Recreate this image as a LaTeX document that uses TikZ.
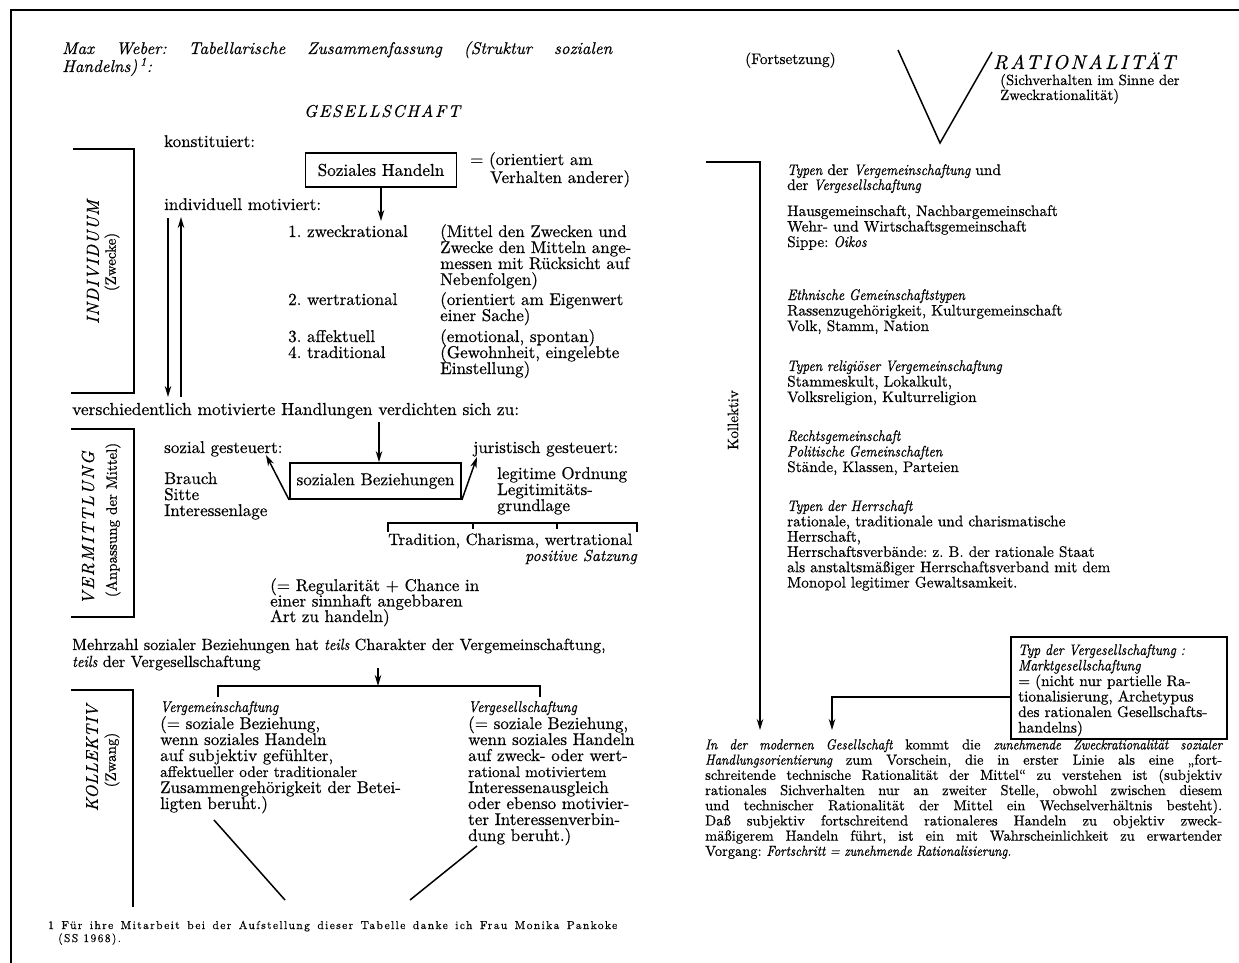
\documentclass[tikz,border=0pt]{standalone}
\usepackage{fontspec}
\usetikzlibrary{arrows.meta}
% text face: the 10pt design of Latin Modern at every size, slightly darkened
\setmainfont{lmroman10-regular.otf}[FakeBold=0.5, ItalicFont=lmroman10-italic.otf, ItalicFeatures={FakeBold=0.5}, BoldFont=lmroman10-bold.otf]
% narrow italic for the small italic headings
\newfontfamily\condit{lmroman10-italic.otf}[FakeStretch=0.88, FakeBold=0.6]
\newcommand\ci[1]{{\condit #1}}
\frenchspacing

\tikzset{
  every node/.style={inner sep=0pt},
  lt/.style={anchor=base west, font=\fontsize{17}{16}\selectfont},
  ltsmall/.style={anchor=base west, font=\fontsize{15.3}{16}\selectfont},
  rt/.style={anchor=base west, font=\fontsize{15.3}{15}\selectfont},
  boxed/.style={draw, line width=1.8pt, font=\fontsize{17.2}{16}\selectfont},
  conn/.style={line width=1.5pt},
  arr/.style={conn, -{Stealth[length=11pt,width=6.5pt]}},
  side/.style={rotate=90, font=\fontsize{17.5}{17}\selectfont\itshape\addfontfeatures{LetterSpace=6}},
  sidesub/.style={rotate=90, font=\fontsize{15}{15}\selectfont},
}

\begin{document}
\begin{tikzpicture}[x=1pt,y=-1pt]
\useasboundingbox (0,0) rectangle (1239,963);
\fill[white] (0,0) rectangle (1239,963);
\draw[line width=2.4pt] (1239,10) -- (11,10) -- (11,963);

% ---------- heading ----------
\node[lt, font=\fontsize{17}{16}\selectfont\itshape] (title1) at (62,54)
  {\makebox[550pt][s]{Max Weber: Tabellarische Zusammenfassung (Struktur sozialen}};
\node[lt, font=\fontsize{17}{16}\selectfont\itshape] (title2) at (62,72)
  {Handelns)\,\textsuperscript{1}:};
\node[font=\fontsize{17}{17}\selectfont\itshape\addfontfeatures{LetterSpace=10}] (ges) at (382,111) {GESELLSCHAFT};

% ---------- Individuum ----------
\draw[conn] (73,149) -- (134,149) -- (134,393) -- (71,393);
\node[side] (ind) at (93,262) {INDIVIDUUM};
\node[sidesub] (indz) at (112,262) {(Zwecke)};
\node[lt] (konst) at (164,147) {konstituiert:};
\node[boxed, minimum width=151pt, minimum height=34pt] (sh) at (381,170) {Soziales Handeln};
\node[lt] (or1) at (470,165) {= (orientiert am};
\node[lt] (or2) at (490,183) {Verhalten anderer)};
\node[lt] (indiv) at (164,210) {individuell motiviert:};
\coordinate (shend) at (381,221);
\draw[arr] (sh.south) -- (shend);
\coordinate (dnA) at (168,218); \coordinate (dnB) at (168,397);
\draw[arr] (dnA) -- (dnB);
\coordinate (upA) at (181,397); \coordinate (upB) at (181,217);
\draw[arr] (upA) -- (upB);

\node[lt] (m1) at (288,237) {1. zweckrational};
\node[lt] (m2) at (288,305) {2. wertrational};
\node[lt] (m3) at (288,342) {3. affektuell};
\node[lt] (m4) at (288,358) {4. traditional};
\foreach \s [count=\i from 0] in {{(Mittel den Zwecken und},{Zwecke den Mitteln ange-},{messen mit Rücksicht auf},{Nebenfolgen)}}
  \node[lt] (ea\i) at (440,{237+16*\i}) {\s};
\foreach \s [count=\i from 0] in {{(orientiert am Eigenwert},{einer Sache)}}
  \node[lt] (eb\i) at (440,{305+16*\i}) {\s};
\node[lt] (ec) at (440,342) {(emotional, spontan)};
\foreach \s [count=\i from 0] in {{(Gewohnheit, eingelebte},{Einstellung)}}
  \node[lt] (ed\i) at (440,{358+16*\i}) {\s};

% ---------- Vermittlung ----------
\node[lt, font=\fontsize{17.4}{16}\selectfont] (verd) at (72,415) {verschiedentlich motivierte Handlungen verdichten sich zu:};
\draw[conn] (71,429) -- (134,429) -- (134,617) -- (71,617);
\node[side, font=\fontsize{17.5}{17}\selectfont\itshape\addfontfeatures{LetterSpace=10}] (verm) at (88,528) {VERMITTLUNG};
\node[sidesub] (anp) at (113,520) {(Anpassung der Mittel)};
\node[lt] (sozg) at (164,453) {sozial gesteuert:};
\node[lt] (jurg) at (473,453) {juristisch gesteuert:};
\node[boxed, minimum width=171pt, minimum height=36pt] (sb) at (375.5,481) {sozialen Beziehungen};
\coordinate (vdtop) at (379,422);
\draw[arr] (vdtop) -- (vdtop |- sb.north);
\coordinate (sgtip) at (266,455);
\coordinate (jgtip) at (477,457);
\draw[arr] (sb.south west) -- (sgtip);
\draw[arr] (sb.south east) -- (jgtip);
\foreach \s [count=\i from 0] in {Brauch,Sitte,Interessenlage}
  \node[lt] (br\i) at (164,{484+16*\i}) {\s};
\foreach \s [count=\i from 0] in {{legitime Ordnung},{Legitimitäts-},{grundlage}}
  \node[lt] (lo\i) at (497,{479+16*\i}) {\s};
\draw[conn] (388,532) -- (388,523) -- (637,523) -- (637,532);
\draw[conn] (473,523) -- (473,529);
\draw[conn] (557,523) -- (557,529);
\node[lt, font=\fontsize{16.5}{16}\selectfont] (trad) at (388,545) {Tradition, Charisma, wertrational};
\node[anchor=base east, font=\fontsize{16}{16}\selectfont\itshape] (pos) at (637,561) {positive Satzung};
\foreach \s [count=\i from 0] in {{(= Regularität + Chance in},{einer sinnhaft angebbaren},{Art zu handeln)}}
  \node[lt] (reg\i) at (270,{591+15.5*\i}) {\s};

% ---------- Kollektiv ----------
\node[lt, font=\fontsize{16.2}{16}\selectfont] (mehr) at (72,650) {Mehrzahl sozialer Beziehungen hat \ci{teils} Charakter der Vergemeinschaftung,};
\node[lt, font=\fontsize{16.2}{16}\selectfont] (teils) at (72,667) {\ci{teils} der Vergesellschaftung};
\coordinate (mzA) at (378,668);
\coordinate (mzB) at (378,686);
\draw[arr] (mzA) -- (mzB);
\draw[conn] (218,697) -- (218,686) -- (540,686) -- (540,697);
\draw[conn] (71,690) -- (133,690) -- (133,907);
\node[side, font=\fontsize{17}{17}\selectfont\itshape\addfontfeatures{LetterSpace=3}] (koll) at (92,758) {KOLLEKTIV};
\node[sidesub] (zw) at (112,760) {(Zwang)};

\node[anchor=base west, font=\fontsize{15.5}{15}\selectfont] (vgm) at (160,712) {\ci{Vergemeinschaftung}};
\foreach \s [count=\i from 0] in {{(= soziale Beziehung,},{wenn soziales Handeln},{auf subjektiv gefühlter,}}
  \node[lt] (vgm\i) at (160,{729+16*\i}) {\s};
\node[ltsmall] (vgm3) at (160,777) {affektueller oder traditionaler};
\foreach \s [count=\i from 4] in {{Zusammengehörigkeit der Betei-},{ligten beruht.)}}
  \node[lt] (vgm\i) at (160,{729+16*\i}) {\s};

\node[anchor=base west, font=\fontsize{15.5}{15}\selectfont] (vgs) at (468,712) {\ci{Vergesellschaftung}};
\foreach \s [count=\i from 0] in {{(= soziale Beziehung,},{wenn soziales Handeln},{auf zweck- oder wert-}}
  \node[lt] (vgs\i) at (468,{729+16*\i}) {\s};
\node[ltsmall] (vgs3) at (468,777) {rational motiviertem};
\foreach \s [count=\i from 4] in {{Interessenausgleich},{oder ebenso motivier-},{ter Interessenverbin-},{dung beruht.)}}
  \node[lt] (vgs\i) at (468,{729+16*\i}) {\s};

\coordinate (dgA) at (214,820); \coordinate (dgB) at (285,900);
\coordinate (dgC) at (477,846); \coordinate (dgD) at (410,900);
\draw[conn] (dgA) -- (dgB);
\draw[conn] (dgC) -- (dgD);

\node[anchor=base west, font=\fontsize{11.5}{11}\selectfont\addfontfeatures{LetterSpace=12}] (fn1) at (48,929)
  {\makebox[569pt][s]{1 Für ihre Mitarbeit bei der Aufstellung dieser Tabelle danke ich Frau Monika Pankoke}};
\node[anchor=base west, font=\fontsize{11.5}{11}\selectfont\addfontfeatures{LetterSpace=12}] (fn2) at (58,942) {(SS 1968).};

% ---------- right column ----------
\node[rt] (forts) at (745,64) {(Fortsetzung)};
\coordinate (va) at (898,50); \coordinate (vb) at (940,143); \coordinate (vc) at (992,52);
\draw[conn] (va) -- (vb) -- (vc);
\node[anchor=base west, font=\fontsize{20}{20}\selectfont\itshape\addfontfeatures{LetterSpace=12}] (rat) at (993,69) {RATIONALITÄT};
\node[rt, font=\fontsize{14.8}{15}\selectfont] (sich1) at (1000,85) {(Sichverhalten im Sinne der};
\node[rt, font=\fontsize{14.8}{15}\selectfont] (sich2) at (1000,100) {Zweckrationalität)};

\node[rotate=90, font=\fontsize{15}{15}\selectfont] (kollr) at (733,420) {Kollektiv};

\foreach \s [count=\i from 0] in {{\ci{Typen} der \ci{Vergemeinschaftung} und},{der \ci{Vergesellschaftung}}}
  \node[rt] (ga\i) at (787,{175+15*\i}) {\s};
\foreach \s [count=\i from 0] in {{Hausgemeinschaft, Nachbargemeinschaft},{Wehr- und Wirtschaftsgemeinschaft},{Sippe: \ci{Oikos}}}
  \node[rt] (gb\i) at (787,{216+15.5*\i}) {\s};
\foreach \s [count=\i from 0] in {{\ci{Ethnische Gemeinschaftstypen}},{Rassenzugehörigkeit, Kulturgemeinschaft},{Volk, Stamm, Nation}}
  \node[rt] (gc\i) at (787,{300+15.5*\i}) {\s};
\foreach \s [count=\i from 0] in {{\ci{Typen religiöser Vergemeinschaftung}},{Stammeskult, Lokalkult,},{Volksreligion, Kulturreligion}}
  \node[rt] (gd\i) at (787,{371+15.5*\i}) {\s};
\foreach \s [count=\i from 0] in {{\ci{Rechtsgemeinschaft}},{\ci{Politische Gemeinschaften}},{Stände, Klassen, Parteien}}
  \node[rt] (ge\i) at (787,{441+15.5*\i}) {\s};
\foreach \s [count=\i from 0] in {{\ci{Typen der Herrschaft}},{rationale, traditionale und charismatische},{Herrschaft,},{Herrschaftsverbände: z. B. der rationale Staat},{als anstaltsmäßiger Herrschaftsverband mit dem},{Monopol legitimer Gewaltsamkeit.}}
  \node[rt] (gf\i) at (787,{511+15.3*\i}) {\s};

% market box and the two arrows into the closing paragraph
\node[draw, line width=1.8pt, anchor=north west, minimum width=216pt, minimum height=102pt] (mk) at (1010,636) {};
\foreach \s [count=\i from 0] in {{\ci{Typ der Vergesellschaftung :}},{\ci{Marktgesellschaftung}},{= (nicht nur partielle Ra-},{tionalisierung, Archetypus},{des rationalen Gesellschafts-},{handelns)}}
  \node[rt] (mk\i) at (1018,{655+15.5*\i}) {\s};

\coordinate (kolltop) at (706,162);
\coordinate (kollend) at (760,730);
\draw[arr] (kolltop) -- (kolltop -| kollend) -- (kollend);
\coordinate (mkrow) at (0,697);
\coordinate (mkend) at (832,730);
\draw[arr] (mk.west |- mkrow) -- (mkend |- mkrow) -- (mkend);

\node[anchor=north west, text width=517pt, align=justify, font=\fontsize{14.5}{15.2}\selectfont] (para) at (705,739)
{\ci{In der modernen Gesellschaft} kommt die \ci{zunehmende Zweckrationalität sozialer}\linebreak
\ci{Handlungsorientierung} zum Vorschein, die in erster Linie als eine „fort-\linebreak
schreitende technische Rationalität der Mittel“ zu verstehen ist (subjektiv\linebreak
rationales Sichverhalten nur an zweiter Stelle, obwohl zwischen diesem\linebreak
und technischer Rationalität der Mittel ein Wechselverhältnis besteht).\linebreak
Daß subjektiv fortschreitend rationaleres Handeln zu objektiv zweck-\linebreak
mäßigerem Handeln führt, ist ein mit Wahrscheinlichkeit zu erwartender\linebreak
Vorgang: \ci{Fortschritt = zunehmende Rationalisierung.}};
\end{tikzpicture}
\end{document}
